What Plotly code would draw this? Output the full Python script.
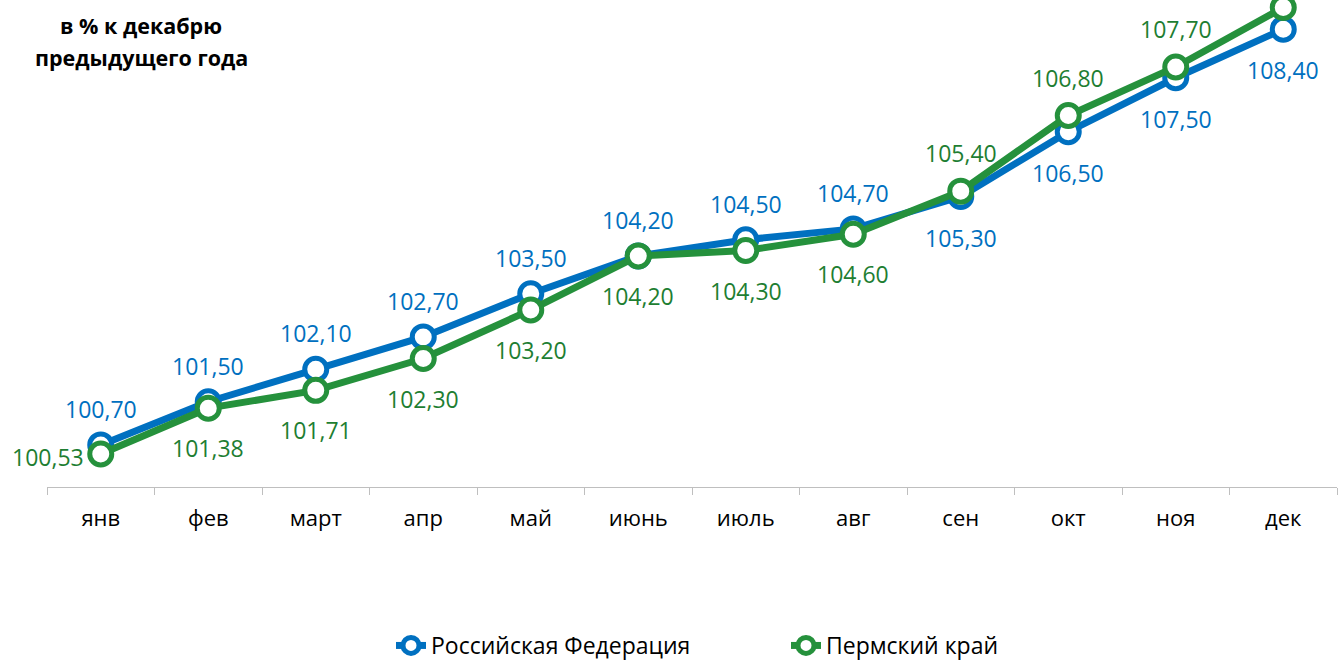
import plotly.graph_objects as go

months = ["янв", "фев", "март", "апр", "май", "июнь", "июль", "авг", "сен", "окт", "ноя", "дек"]
rf = [100.70, 101.50, 102.10, 102.70, 103.50, 104.20, 104.50, 104.70, 105.30, 106.50, 107.50, 108.40]
perm = [100.53, 101.38, 101.71, 102.30, 103.20, 104.20, 104.30, 104.60, 105.40, 106.80, 107.70, 108.80]
rf_pos = ["up"] * 8 + ["down"] * 4
perm_pos = ["left"] + ["down"] * 7 + ["up"] * 3 + ["none"]

BLUE = "#0070C0"
GREEN = "#25913C"
GREEN_TXT = "#1E7E32"
FONT = "Open Sans"
PLOT_H = 487

fig = go.Figure()
fig.add_trace(go.Scatter(
    x=months, y=rf, name="Российская Федерация", mode="lines+markers",
    line=dict(color=BLUE, width=7),
    marker=dict(size=22, color="white", line=dict(color=BLUE, width=5)),
    cliponaxis=False,
))
fig.add_trace(go.Scatter(
    x=months, y=perm, name="Пермский край", mode="lines+markers",
    line=dict(color=GREEN, width=7),
    marker=dict(size=22, color="white", line=dict(color=GREEN, width=5)),
    cliponaxis=False,
))

def fmt(v):
    return f"{v:.2f}".replace(".", ",")

ann = []
for m, v, p in zip(months, rf, rf_pos):
    ann.append(dict(x=m, y=v, text=fmt(v), showarrow=False,
                    font=dict(family=FONT, size=23, color=BLUE),
                    yshift=36 if p == "up" else -41))
for m, v, p in zip(months, perm, perm_pos):
    if p == "none":
        continue
    if p == "left":
        ann.append(dict(x=m, y=v, text=fmt(v), showarrow=False,
                        font=dict(family=FONT, size=23, color=GREEN_TXT),
                        xshift=-53, yshift=-3))
    else:
        ann.append(dict(x=m, y=v, text=fmt(v), showarrow=False,
                        font=dict(family=FONT, size=23, color=GREEN_TXT),
                        yshift=38 if p == "up" else -40))
for txt, ypx in [("в % к декабрю", 25), ("предыдущего года", 57)]:
    ann.append(dict(xref="paper", yref="paper", x=(141 - 47) / 1290, y=1 - ypx / PLOT_H,
                    xanchor="center", yanchor="middle",
                    text=f"<b>{txt}</b>", showarrow=False,
                    font=dict(family=FONT, size=21.5, color="black")))

fig.update_layout(
    width=1343, height=665,
    margin=dict(l=47, r=6, t=0, b=178, autoexpand=False),
    paper_bgcolor="white", plot_bgcolor="white",
    showlegend=True,
    legend=dict(orientation="h", x=(391 - 47) / 1290, xanchor="left",
                y=-(624 - PLOT_H) / PLOT_H, yanchor="top",
                font=dict(family=FONT, size=23, color="black"),
                entrywidthmode="pixels", entrywidth=350),
    annotations=ann,
    xaxis=dict(type="category", range=[-0.5, 11.5], showgrid=False,
               showline=True, linecolor="#BFBFBF", linewidth=1,
               ticks="outside", tickson="boundaries", ticklen=7, tickcolor="#BFBFBF",
               ticklabelstandoff=12,
               tickfont=dict(family=FONT, size=22, color="black")),
    yaxis=dict(range=[99.92, 108.94], visible=False),
)
fig.write_html("out.html", config={"displayModeBar": False},
               post_script="document.body.style.margin='0';document.body.style.overflow='hidden';")
